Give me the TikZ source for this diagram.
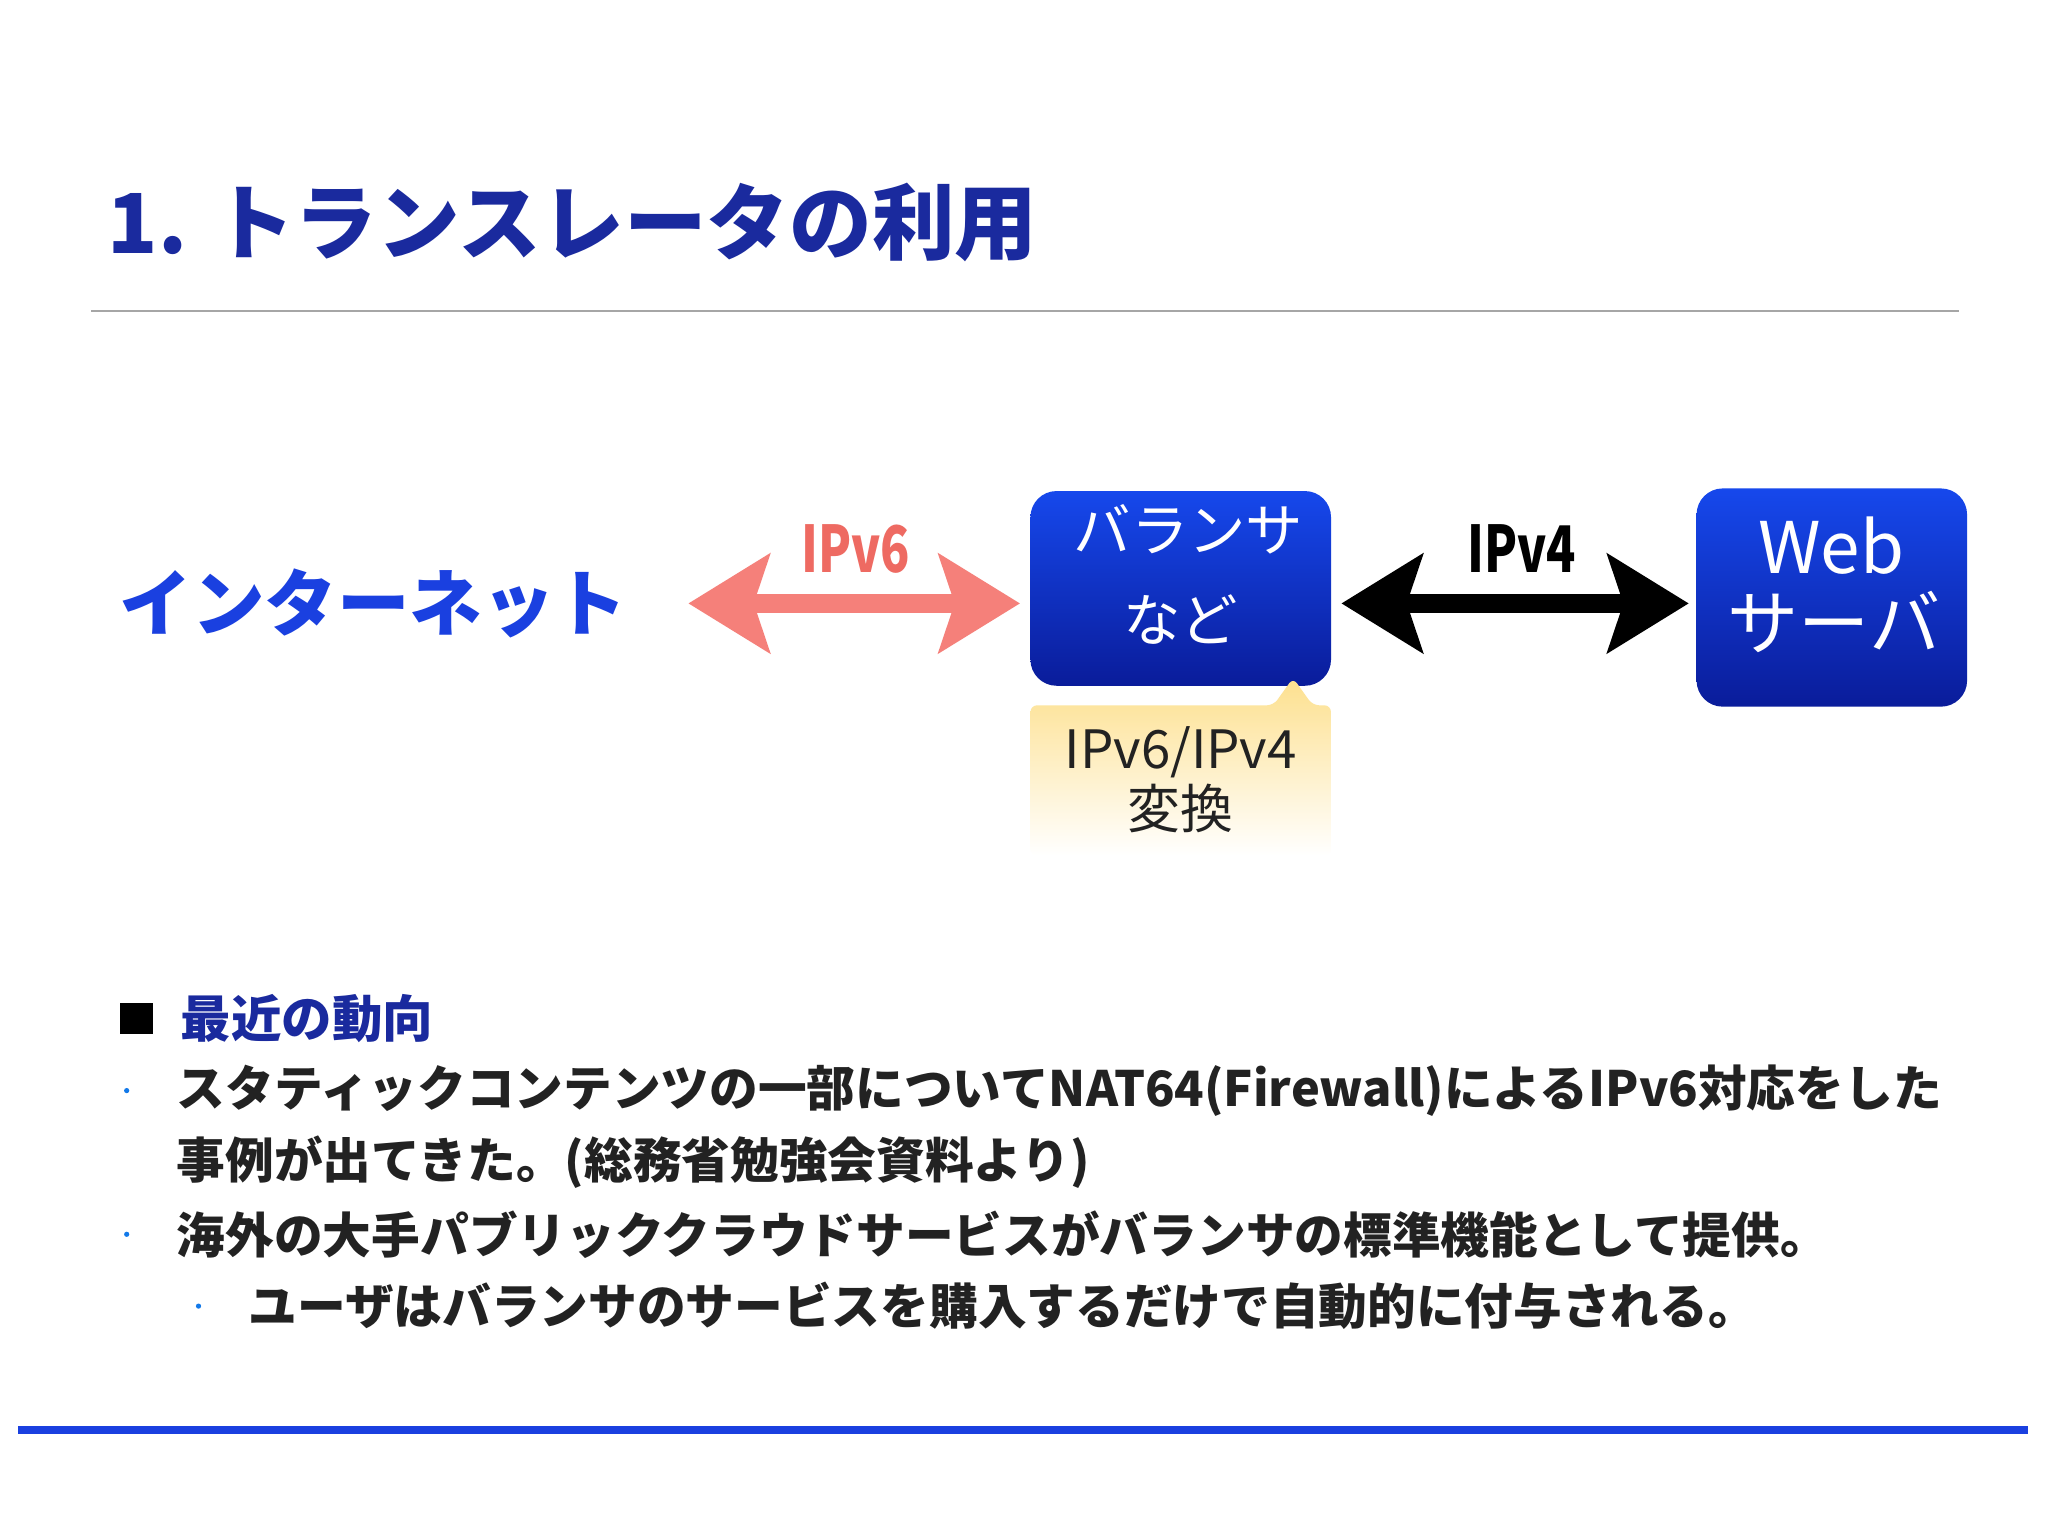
\documentclass[tikz,border=0pt]{standalone}
\usepackage{fontspec}
\setmainfont{Noto Sans CJK JP}
\usetikzlibrary{arrows.meta}
\definecolor{titleblue}{HTML}{1A2A9E}
\definecolor{netblue}{HTML}{1A40E0}
\definecolor{boxtop}{HTML}{1648EC}
\definecolor{boxbot}{HTML}{0A1C9A}
\definecolor{pinkarr}{HTML}{F5807A}
\definecolor{ipv6red}{HTML}{EE6A62}
\definecolor{calloutY}{HTML}{FDE08E}
\definecolor{bodytxt}{HTML}{222222}
\tikzset{
  bluebox/.style={rounded corners=0.2cm, top color=boxtop, bottom color=boxbot, draw=none, text=white, align=center},
  bigarrow/.style={line width=0.14cm, {Stealth[length=0.62cm,width=0.75cm,inset=0.12cm]}-{Stealth[length=0.62cm,width=0.75cm,inset=0.12cm]}, shorten <=0.02cm, shorten >=0.02cm},
  bodyline/.style={anchor=west, text=bodytxt, font=\fontsize{10.6}{13}\selectfont\bfseries},
  bul/.style={circle, fill=netblue!70!cyan, inner sep=0pt, minimum size=0.04cm}
}
\begin{document}
\begin{tikzpicture}[x=0.01cm,y=-0.01cm]
\useasboundingbox (0,0) rectangle (1568,1176);
\fill[white] (0,0) rectangle (1568,1176);
% title
\node[anchor=west, text=titleblue, font=\fontsize{18}{20}\selectfont\bfseries] (title) at (70,170) {1. トランスレータの利用};
\draw[gray!70, line width=0.4pt] (70,238) -- (1500,238);
% diagram
\node[text=netblue, font=\fontsize{15.8}{18}\selectfont\bfseries] (inet) at (286,462) {インターネット};
\node[bluebox, minimum width=2.3cm, minimum height=1.49cm] (bal) at (904,450.5) {};
\node[text=white, font=\fontsize{12.5}{14}\selectfont] (balt1) at (910,405) {バランサ};
\node[text=white, font=\fontsize{12.5}{14}\selectfont] (balt2) at (904,474) {など};
\node[bluebox, minimum width=2.07cm, minimum height=1.67cm] (web) at (1402.5,457.5) {};
\node[text=white, font=\fontsize{15.5}{17}\selectfont] (webt1) at (1402,418) {Web};
\node[text=white, font=\fontsize{15.5}{17}\selectfont] (webt2) at (1404,476) {サーバ};
% callout
\shade[top color=calloutY, bottom color=white, rounded corners=0.05cm]
  (789,540) -- (975,540) -- (990,519) -- (1005,540) -- (1019,540) -- (1019,655) -- (789,655) -- cycle;
\node[text=bodytxt, font=\fontsize{11.5}{14}\selectfont, align=center] (conv) at (904,597) {IPv6/IPv4\\[-1pt]変換};
% arrows
\coordinate (pl) at (525,462);
\coordinate (pr) at (783,462);
\draw[bigarrow, pinkarr] (pl) -- (pr);
\node[text=ipv6red, font=\fontsize{14}{16}\selectfont\bfseries, xscale=0.75] (l6) at (655,420) {IPv6};
\coordinate (bl) at (1025,462);
\coordinate (br) at (1295,462);
\draw[bigarrow, black] (bl) -- (br);
\node[text=black, font=\fontsize{14}{16}\selectfont\bfseries, xscale=0.75] (l4) at (1165,420) {IPv4};
% text section
\fill[black] (92,768) rectangle (117,792);
\node[anchor=west, text=titleblue, font=\fontsize{11}{13}\selectfont\bfseries] (sec) at (126,780) {最近の動向};
\node[bul] (b1) at (97,835) {};
\node[bodyline] (t1) at (123,835) {スタティックコンテンツの一部についてNAT64(Firewall)によるIPv6対応をした};
\node[bodyline] (t2) at (123,890) {事例が出てきた。(総務省勉強会資料より)};
\node[bul] (b2) at (97,945) {};
\node[bodyline] (t3) at (123,945) {海外の大手パブリッククラウドサービスがバランサの標準機能として提供。};
\node[bul] (b3) at (152,1000) {};
\node[bodyline] (t4) at (178,1000) {ユーザはバランサのサービスを購入するだけで自動的に付与される。};
\draw[netblue, line width=0.06cm] (14,1095) -- (1553,1095);
\end{tikzpicture}
\end{document}
